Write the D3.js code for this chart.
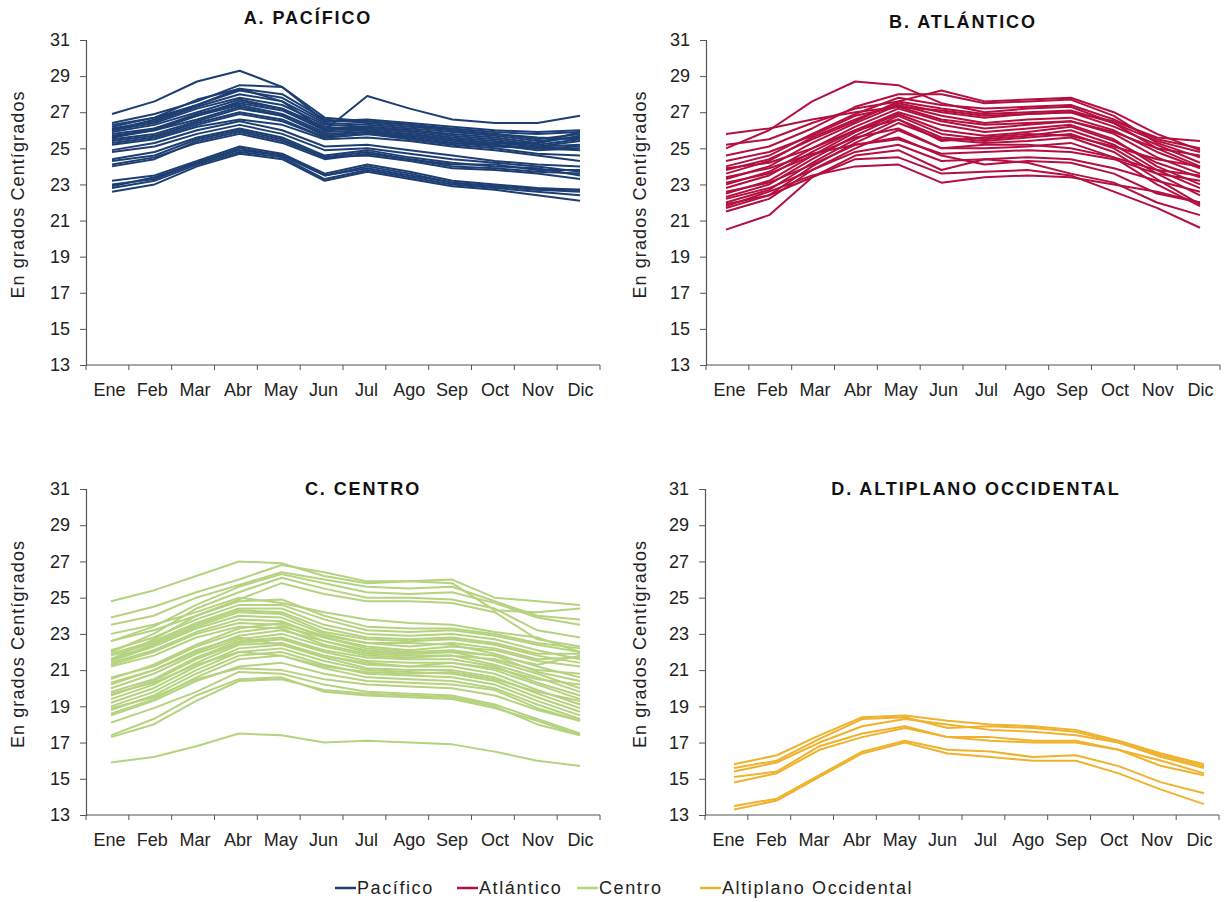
<!DOCTYPE html>
<html>
<head>
<meta charset="utf-8">
<script src="https://cdn.jsdelivr.net/npm/d3@7"></script>
<style>
  html, body { margin: 0; padding: 0; background: #fff; }
  svg { display: block; font-family: "Liberation Sans", Arial, Helvetica, sans-serif; }
</style>
</head>
<body>
<svg id="chart" width="1228" height="902"></svg>
<script>
// Monthly mean temperatures (°C) by station, grouped by region
const months = ["Ene", "Feb", "Mar", "Abr", "May", "Jun", "Jul", "Ago", "Sep", "Oct", "Nov", "Dic"];
const yTicks = [13, 15, 17, 19, 21, 23, 25, 27, 29, 31];

const pacifico = [
  [26.9, 27.6, 28.7, 29.3, 28.4, 26.7, 26.5, 26.3, 26.0, 25.8, 25.6, 25.5],
  [26.2, 26.7, 27.7, 28.3, 27.6, 26.0, 27.9, 27.2, 26.6, 26.4, 26.4, 26.8],
  [26.4, 26.9, 27.6, 28.5, 28.4, 26.5, 26.6, 26.4, 26.2, 26.0, 25.9, 26.0],
  [26.3, 26.7, 27.4, 28.3, 28.0, 26.6, 26.4, 26.2, 26.0, 25.8, 25.5, 25.8],
  [26.1, 26.5, 27.3, 28.0, 27.6, 26.4, 26.3, 26.1, 25.9, 25.7, 25.4, 25.6],
  [26.0, 26.4, 27.2, 27.8, 27.4, 26.3, 26.2, 26.0, 25.8, 25.6, 25.3, 25.7],
  [25.9, 26.3, 27.0, 27.7, 27.2, 26.1, 26.2, 26.0, 25.7, 25.5, 25.2, 25.5],
  [25.8, 26.1, 26.9, 27.5, 27.1, 26.0, 26.1, 25.9, 25.6, 25.4, 25.1, 25.4],
  [25.7, 26.0, 26.8, 27.4, 26.9, 25.9, 26.0, 25.8, 25.5, 25.3, 25.1, 25.2],
  [25.6, 26.0, 26.6, 27.3, 26.8, 25.8, 25.9, 25.7, 25.4, 25.2, 25.0, 25.1],
  [25.5, 25.8, 26.5, 27.2, 26.8, 25.7, 25.9, 25.6, 25.3, 25.2, 24.9, 25.0],
  [25.4, 25.7, 26.4, 27.0, 26.6, 25.6, 25.8, 25.6, 25.3, 25.1, 25.0, 24.9],
  [25.6, 26.1, 26.8, 27.6, 27.2, 26.2, 26.0, 25.8, 25.5, 25.3, 25.3, 25.9],
  [26.0, 26.6, 27.4, 28.2, 27.8, 26.5, 26.5, 26.3, 26.1, 25.9, 25.8, 25.9],
  [25.3, 25.6, 26.3, 26.9, 26.5, 25.6, 25.8, 25.5, 25.2, 25.0, 24.7, 24.6],
  [25.2, 25.5, 26.2, 26.6, 26.3, 25.5, 25.6, 25.4, 25.1, 24.9, 24.6, 24.3],
  [24.9, 25.3, 26.0, 26.5, 26.0, 25.1, 25.2, 24.9, 24.6, 24.3, 24.1, 24.0],
  [24.8, 25.1, 25.8, 26.3, 25.8, 24.9, 25.0, 24.7, 24.4, 24.2, 24.0, 23.7],
  [24.4, 24.8, 25.6, 26.1, 25.6, 24.6, 24.9, 24.5, 24.2, 24.0, 23.9, 23.5],
  [24.3, 24.6, 25.5, 26.0, 25.5, 24.5, 24.8, 24.4, 24.1, 24.1, 23.8, 23.8],
  [24.0, 24.4, 25.4, 25.9, 25.4, 24.5, 24.6, 24.3, 23.9, 23.8, 23.6, 23.3],
  [24.1, 24.5, 25.3, 25.8, 25.3, 24.4, 24.7, 24.4, 24.0, 23.9, 23.7, 23.6],
  [23.2, 23.5, 24.3, 25.1, 24.7, 23.6, 24.1, 23.7, 23.2, 23.0, 22.8, 22.7],
  [23.0, 23.3, 24.2, 24.9, 24.6, 23.5, 23.9, 23.5, 23.1, 22.9, 22.7, 22.6],
  [22.8, 23.2, 24.1, 24.8, 24.5, 23.3, 23.8, 23.4, 23.0, 22.8, 22.6, 22.4],
  [22.6, 23.0, 24.0, 24.7, 24.4, 23.2, 23.7, 23.3, 22.9, 22.7, 22.4, 22.1],
  [22.9, 23.4, 24.2, 25.0, 24.6, 23.5, 24.0, 23.6, 23.1, 22.9, 22.7, 22.7]
];

const atlantico = [
  [25.0, 26.0, 27.6, 28.7, 28.5, 27.5, 27.0, 27.2, 27.3, 26.4, 25.0, 24.0],
  [25.8, 26.1, 26.6, 27.0, 27.3, 27.1, 26.8, 26.9, 27.0, 26.5, 25.6, 25.4],
  [25.2, 25.5, 26.4, 27.2, 27.6, 28.2, 27.6, 27.7, 27.8, 27.0, 25.8, 24.9],
  [24.6, 25.1, 26.1, 27.3, 28.0, 28.0, 27.5, 27.6, 27.7, 26.8, 25.3, 24.5],
  [24.0, 24.6, 25.8, 26.9, 27.8, 27.4, 27.2, 27.3, 27.4, 26.6, 25.5, 25.0],
  [23.6, 24.3, 25.6, 26.6, 27.5, 27.0, 26.7, 26.9, 27.0, 26.2, 25.2, 24.2],
  [23.3, 24.0, 25.3, 26.4, 27.4, 26.8, 26.4, 26.6, 26.7, 26.0, 24.8, 23.9],
  [23.0, 23.7, 25.0, 26.2, 27.2, 26.5, 26.1, 26.3, 26.5, 25.8, 24.5, 23.6],
  [22.8, 23.5, 24.8, 26.0, 27.0, 26.3, 25.9, 26.1, 26.3, 25.5, 24.0, 23.0],
  [22.5, 23.2, 24.6, 25.9, 26.9, 26.0, 25.7, 25.9, 26.2, 25.4, 24.2, 23.4],
  [22.3, 23.0, 24.4, 25.7, 26.8, 25.8, 25.5, 25.7, 26.0, 25.2, 23.8, 22.8],
  [22.0, 22.7, 24.2, 25.5, 26.6, 25.6, 25.4, 25.6, 25.8, 25.0, 23.6, 22.4],
  [21.7, 22.4, 24.0, 25.3, 26.4, 25.5, 25.3, 25.4, 25.6, 24.8, 23.3, 21.9],
  [21.5, 22.2, 23.8, 25.0, 26.0, 25.0, 25.0, 25.1, 25.3, 24.5, 23.0, 21.8],
  [23.8, 24.4, 25.5, 26.5, 27.6, 27.2, 26.9, 27.0, 27.1, 26.4, 25.4, 24.8],
  [24.3, 24.8, 25.7, 26.8, 27.3, 26.6, 26.3, 26.4, 26.5, 25.9, 25.0, 24.6],
  [23.9, 24.2, 25.0, 26.0, 26.6, 25.4, 25.6, 25.8, 25.7, 25.1, 24.4, 24.0],
  [23.1, 23.6, 24.6, 25.6, 26.1, 25.0, 25.2, 25.2, 25.0, 24.5, 23.8, 23.5],
  [22.6, 23.1, 24.1, 25.2, 25.5, 24.7, 24.8, 24.9, 24.8, 24.4, 23.6, 23.2],
  [22.2, 22.8, 23.8, 24.8, 25.2, 24.3, 24.4, 24.5, 24.4, 23.9, 23.2, 22.6],
  [21.9, 22.4, 23.4, 24.6, 24.9, 23.8, 24.4, 24.2, 23.6, 23.1, 22.0, 21.3],
  [20.5, 21.3, 23.4, 24.4, 24.5, 23.6, 23.7, 23.8, 23.5, 22.6, 21.7, 20.6],
  [21.8, 22.6, 23.5, 24.0, 24.1, 23.1, 23.4, 23.5, 23.4, 23.0, 22.6, 22.0],
  [23.4, 23.9, 24.7, 25.2, 25.6, 24.6, 24.1, 24.3, 24.2, 23.6, 22.5, 22.0]
];

const centro = [
  [24.8, 25.4, 26.2, 27.0, 26.9, 26.2, 25.8, 25.9, 26.0, 25.0, 24.8, 24.6],
  [23.9, 24.5, 25.3, 26.0, 26.8, 26.4, 25.9, 25.9, 25.8, 24.3, 24.2, 24.4],
  [23.5, 24.0, 25.0, 25.7, 26.4, 26.0, 25.6, 25.5, 25.6, 24.8, 24.0, 23.8],
  [22.6, 23.4, 24.6, 25.6, 26.3, 25.8, 25.3, 25.2, 25.3, 24.7, 23.9, 23.5],
  [22.0, 23.0, 24.4, 25.3, 26.1, 25.5, 25.0, 25.0, 24.9, 24.4, 23.2, 22.8],
  [21.6, 22.7, 24.0, 24.9, 25.8, 25.2, 24.8, 24.8, 24.7, 24.2, 22.7, 22.3],
  [22.1, 22.8, 23.8, 24.6, 24.6, 23.8, 23.2, 23.1, 23.2, 22.9, 22.4, 22.0],
  [21.9, 22.6, 23.6, 24.4, 24.4, 23.5, 23.0, 22.9, 23.0, 22.7, 22.1, 21.6],
  [21.8, 22.5, 23.5, 24.3, 24.2, 23.3, 22.8, 22.7, 22.8, 22.5, 21.9, 21.9],
  [21.6, 22.4, 23.4, 24.2, 24.1, 23.1, 22.7, 22.6, 22.7, 22.4, 21.8, 21.4],
  [21.5, 22.3, 23.3, 24.0, 23.9, 23.0, 22.5, 22.3, 22.5, 22.2, 21.6, 21.7],
  [21.4, 22.1, 23.1, 23.8, 23.7, 22.8, 22.3, 22.1, 22.3, 22.1, 21.5, 21.2],
  [21.3, 22.0, 23.0, 23.6, 23.5, 22.6, 22.1, 21.9, 22.0, 21.8, 21.3, 21.8],
  [21.2, 21.8, 22.8, 23.4, 23.3, 22.4, 21.9, 21.8, 21.8, 21.6, 21.0, 20.8],
  [22.6, 23.2, 24.0, 24.8, 24.9, 24.0, 23.4, 23.3, 23.3, 23.0, 22.5, 22.2],
  [23.0, 23.5, 24.2, 25.0, 24.7, 24.2, 23.8, 23.6, 23.5, 23.1, 22.8, 22.0],
  [20.6, 21.2, 22.3, 23.1, 23.4, 22.8, 22.2, 22.0, 22.1, 21.8, 20.9, 20.4],
  [20.3, 21.0, 22.0, 22.9, 23.2, 22.6, 22.0, 21.9, 22.0, 21.5, 20.8, 20.0],
  [20.0, 20.8, 21.9, 22.7, 23.0, 22.3, 21.8, 21.7, 21.8, 21.3, 20.6, 19.8],
  [19.8, 20.5, 21.7, 22.6, 22.8, 22.1, 21.7, 21.6, 21.6, 21.2, 20.3, 19.6],
  [19.6, 20.4, 21.6, 22.5, 22.7, 22.0, 21.5, 21.4, 21.4, 21.0, 20.2, 19.4],
  [19.4, 20.2, 21.4, 22.4, 22.5, 21.8, 21.3, 21.2, 21.2, 20.8, 19.9, 19.1],
  [19.2, 20.0, 21.2, 22.2, 22.4, 21.7, 21.1, 21.0, 21.0, 20.6, 19.7, 18.9],
  [19.0, 19.8, 21.0, 22.0, 22.2, 21.5, 21.0, 20.9, 20.8, 20.4, 19.5, 18.7],
  [18.8, 19.6, 20.8, 21.8, 22.0, 21.3, 20.8, 20.7, 20.6, 20.2, 19.3, 18.5],
  [18.6, 19.4, 20.6, 21.6, 21.8, 21.1, 20.6, 20.5, 20.4, 20.0, 19.1, 18.3],
  [18.5, 19.3, 20.4, 21.2, 21.4, 20.8, 20.4, 20.3, 20.2, 19.9, 18.9, 18.2],
  [20.5, 21.3, 22.4, 23.3, 23.6, 22.9, 22.5, 22.5, 22.4, 21.9, 21.2, 20.6],
  [20.2, 21.0, 22.1, 22.8, 22.4, 21.8, 21.4, 21.2, 21.4, 21.1, 20.5, 20.2],
  [19.7, 20.3, 21.3, 22.0, 21.8, 21.2, 20.9, 20.8, 20.9, 20.5, 19.8, 19.3],
  [18.9, 19.5, 20.5, 21.1, 21.0, 20.5, 20.2, 20.1, 20.0, 19.6, 18.8, 18.2],
  [18.1, 18.9, 19.8, 20.9, 20.8, 20.2, 19.8, 19.7, 19.6, 19.1, 18.3, 17.5],
  [17.4, 18.3, 19.6, 20.5, 20.6, 19.8, 19.6, 19.5, 19.4, 18.9, 18.2, 17.4],
  [17.3, 18.0, 19.3, 20.4, 20.5, 19.9, 19.7, 19.6, 19.5, 19.0, 18.0, 17.4],
  [15.9, 16.2, 16.8, 17.5, 17.4, 17.0, 17.1, 17.0, 16.9, 16.5, 16.0, 15.7]
];

const altiplano = [
  [15.8, 16.3, 17.4, 18.4, 18.5, 18.2, 18.0, 17.9, 17.7, 17.1, 16.4, 15.8],
  [15.6, 16.0, 17.2, 18.3, 18.4, 17.8, 17.9, 17.8, 17.6, 17.0, 16.2, 15.6],
  [15.4, 15.9, 17.0, 17.9, 18.3, 18.0, 17.7, 17.6, 17.4, 17.0, 16.3, 15.7],
  [15.1, 15.4, 16.8, 17.5, 17.9, 17.3, 17.3, 17.1, 17.1, 16.6, 16.0, 15.3],
  [14.8, 15.3, 16.6, 17.3, 17.8, 17.3, 17.1, 17.0, 17.0, 16.6, 15.7, 15.2],
  [13.5, 13.9, 15.2, 16.5, 17.1, 16.6, 16.5, 16.2, 16.3, 15.7, 14.8, 14.2],
  [13.3, 13.8, 15.1, 16.4, 17.0, 16.4, 16.2, 16.0, 16.0, 15.3, 14.4, 13.6]
];

const regionNames = ["Pacífico", "Atlántico", "Centro", "Altiplano Occidental"];
const panelTitles = ["A. PACÍFICO", "B. ATLÁNTICO", "C. CENTRO", "D. ALTIPLANO OCCIDENTAL"];
const regionColors = ["#1d3e72", "#b3103f", "#b5d37f", "#f0b22c"];
const yTitle = "En grados Centígrados";

// Panel geometry
const panels = [
  { data: pacifico,  left: 86,  right: 600,  top: 40,  bottom: 365, lx0: 112, lx1: 580,  tx: 308, ty: 18, yt: 18 },
  { data: atlantico, left: 706, right: 1220, top: 40,  bottom: 365, lx0: 726, lx1: 1200, tx: 963, ty: 22, yt: 640 },
  { data: centro,    left: 86,  right: 600,  top: 489, bottom: 815, lx0: 111, lx1: 580,  tx: 363, ty: 489, yt: 18 },
  { data: altiplano, left: 705, right: 1219, top: 489, bottom: 815, lx0: 734, lx1: 1204, tx: 976, ty: 489, yt: 640 }
];

const svg = d3.select("#chart");
const tickFont = 18;
const axisColor = "#555";

panels.forEach((p, i) => {
  const g = svg.append("g");
  const y = d3.scaleLinear().domain([13, 31]).range([p.bottom, p.top]);
  const xBand = d3.scaleBand().domain(months).range([p.left, p.right]).padding(0);
  const xLine = d3.scalePoint().domain(months).range([p.lx0, p.lx1]);

  // series lines
  const line = d3.line()
    .x((d, k) => xLine(months[k]))
    .y(d => y(d));
  g.append("g")
    .selectAll("path")
    .data(p.data)
    .join("path")
    .attr("d", line)
    .attr("fill", "none")
    .attr("stroke", regionColors[i])
    .attr("stroke-width", 2)
    .attr("stroke-linejoin", "round");

  // y axis
  const yAxis = d3.axisLeft(y).tickValues(yTicks).tickSize(6).tickPadding(10).tickFormat(d3.format("d"));
  const ya = g.append("g").attr("transform", `translate(${p.left},0)`).call(yAxis);
  ya.select(".domain").attr("stroke", axisColor).attr("stroke-width", 1.2);
  ya.selectAll(".tick line").attr("stroke", axisColor);
  ya.selectAll(".tick text")
    .attr("font-size", tickFont)
    .attr("font-family", "Liberation Sans, Arial, sans-serif")
    .attr("fill", "#222");

  // x axis: tick marks between categories, labels centred on categories
  const xa = g.append("g").attr("transform", `translate(0,${p.bottom})`);
  xa.append("line")
    .attr("x1", p.left).attr("x2", p.right)
    .attr("stroke", axisColor).attr("stroke-width", 1.2);
  const edges = months.map(m => xBand(m)).concat([p.right]);
  xa.selectAll("line.tk")
    .data(edges)
    .join("line")
    .attr("class", "tk")
    .attr("x1", d => d).attr("x2", d => d)
    .attr("y1", 0).attr("y2", 5)
    .attr("stroke", axisColor);
  xa.selectAll("text")
    .data(months)
    .join("text")
    .attr("x", d => xBand(d) + xBand.bandwidth() / 2 + 2)
    .attr("y", 31)
    .attr("text-anchor", "middle")
    .attr("font-size", tickFont)
    .attr("fill", "#222")
    .text(d => d);

  // panel title
  g.append("text")
    .attr("x", p.tx)
    .attr("y", p.ty)
    .attr("dy", "0.35em")
    .attr("text-anchor", "middle")
    .attr("font-size", 18)
    .attr("letter-spacing", 1.9)
    .attr("font-weight", "bold")
    .attr("fill", "#111")
    .text(panelTitles[i]);

  // y axis title
  g.append("text")
    .attr("transform", `translate(${p.yt},${(p.top + p.bottom) / 2 - 8}) rotate(-90)`)
    .attr("dy", "0.35em")
    .attr("text-anchor", "middle")
    .attr("font-size", 18)
    .attr("letter-spacing", 1.1)
    .attr("fill", "#222")
    .text(yTitle);
});

// legend
const legendX = [335, 457, 577, 700];
const legend = svg.append("g").attr("transform", "translate(0,888)");
const items = legend.selectAll("g")
  .data(regionNames)
  .join("g")
  .attr("transform", (d, k) => `translate(${legendX[k]},0)`);
items.append("line")
  .attr("x1", 0).attr("x2", 21)
  .attr("stroke", (d, k) => regionColors[k])
  .attr("stroke-width", 2.5);
items.append("text")
  .attr("x", 22)
  .attr("dy", "0.35em")
  .attr("font-size", 18)
  .attr("letter-spacing", 1.6)
  .attr("fill", "#222")
  .text(d => d);
</script>
</body>
</html>
